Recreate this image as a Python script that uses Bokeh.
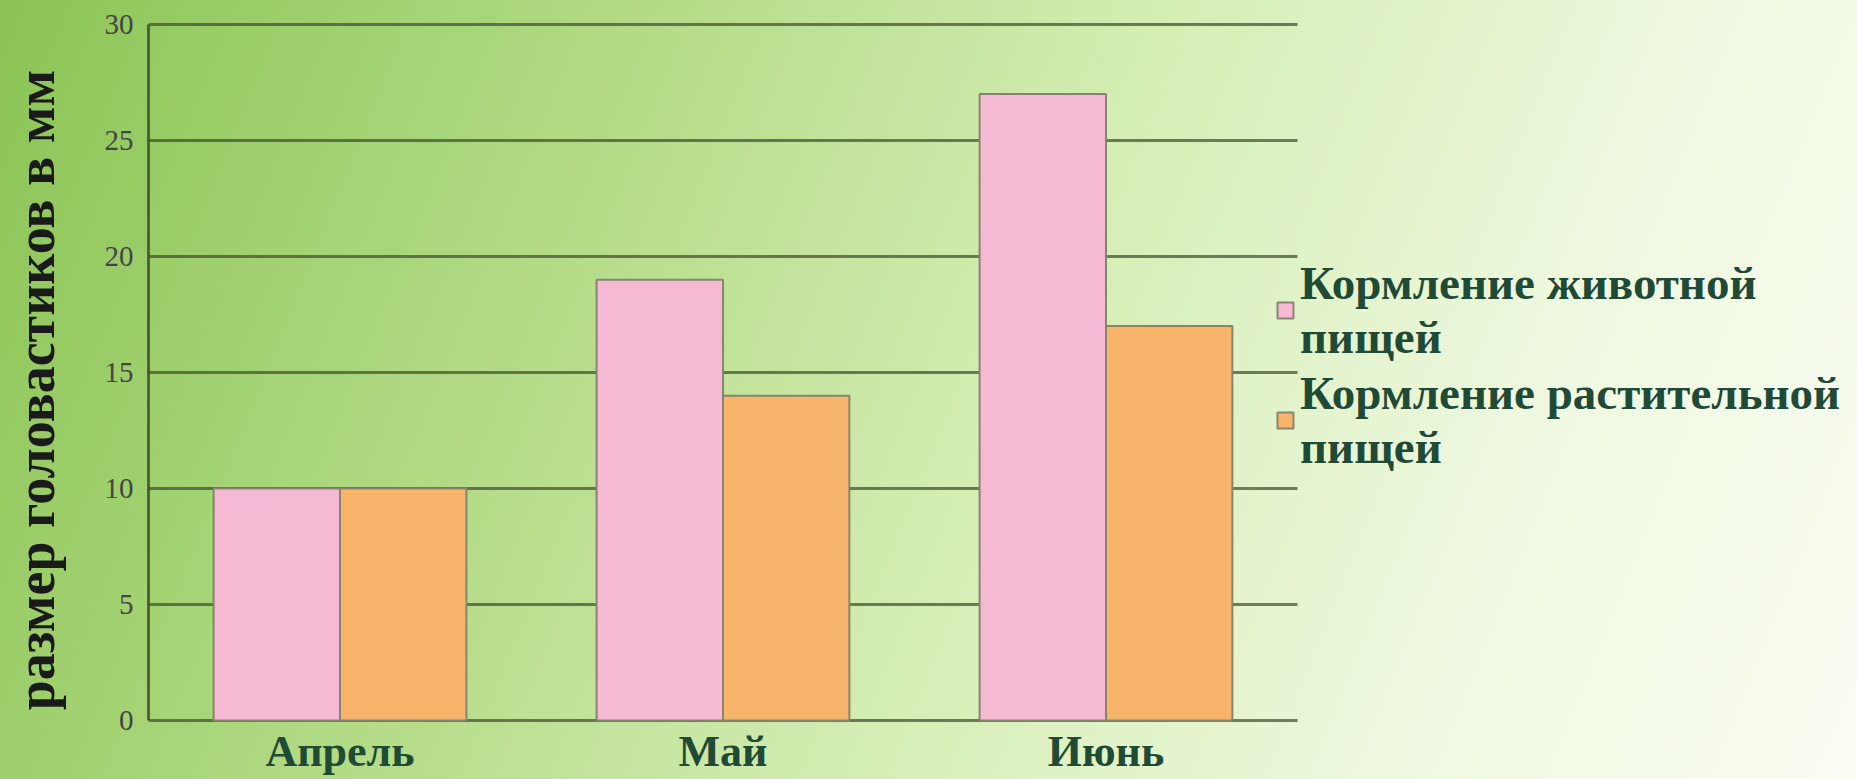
from bokeh.plotting import figure
from bokeh.models import ColumnDataSource, Range1d, Legend, LegendItem, FixedTicker, GlobalInlineStyleSheet
from bokeh.transform import dodge
from bokeh.core.properties import value
from bokeh.embed import file_html
from bokeh.resources import INLINE

# ---- data ----
months = ["Апрель", "Май", "Июнь"]
animal = [10, 19, 27]
plant = [10, 14, 17]
series_names = ["Кормление животной\nпищей", "Кормление растительной\nпищей"]
y_ticks = [0, 5, 10, 15, 20, 25, 30]
y_label = "размер головастиков в мм"

n = len(months)
xs = [i + 0.5 for i in range(n)]
src = ColumnDataSource(dict(x=xs, month=months, animal=animal, plant=plant))
grid_src = ColumnDataSource(dict(y=y_ticks, x0=[0] * len(y_ticks), x1=[n] * len(y_ticks)))

# ---- layout (pixels) ----
W, H = 1857, 779
LEFT = 148          # frame left edge
ZERO_Y = 720        # pixel row of value 0
TOP_Y = 24          # pixel row of value 30
CAT_W = 383.0       # pixel width of one category
px_per_unit = (ZERO_Y - TOP_Y) / 30.0
y0 = -(H - ZERO_Y) / px_per_unit
y1 = 30 + TOP_Y / px_per_unit
x1 = (W - LEFT) / CAT_W

GRID = "#3a4a2a"
TXT = "#1f4a36"
SERIF = "Liberation Serif"

p = figure(width=W, height=H, x_range=Range1d(0, x1), y_range=Range1d(y0, y1),
           output_backend="svg", toolbar_location=None, x_axis_location=None,
           min_border_left=LEFT, min_border_right=0, min_border_top=0, min_border_bottom=0)
p.stylesheets = [GlobalInlineStyleSheet(css=(
    "html { min-height: 100%; background: linear-gradient(112deg, #8bc455 0%, #b3db86 30%, "
    "#d6eeb6 55%, #eef8df 78%, #fafdf3 100%) no-repeat; }"))]
p.background_fill_alpha = 0
p.border_fill_alpha = 0
p.outline_line_color = None
p.xgrid.visible = False
p.ygrid.visible = False

# horizontal grid lines across the category area
p.segment(x0='x0', x1='x1', y0='y', y1='y', source=grid_src,
          line_color=GRID, line_width=3, line_alpha=0.7)

r1 = p.vbar(x=dodge('x', -0.165), top='animal', width=0.33, source=src,
            fill_color="#f6b9d3", line_color="#86866f", line_width=2)
r2 = p.vbar(x=dodge('x', 0.165), top='plant', width=0.33, source=src,
            fill_color="#f9b46c", line_color="#86866f", line_width=2)

# category labels under the axis
p.text(x='x', y=0, text='month', source=src, y_offset=31,
       text_align="center", text_baseline="alphabetic",
       text_font=value(SERIF), text_font_style="bold", text_font_size="44px", text_color=TXT)

# y axis
p.yaxis.ticker = FixedTicker(ticks=y_ticks)
p.yaxis.bounds = (0, 30)
p.yaxis.axis_label = y_label
p.yaxis.axis_label_text_font = SERIF
p.yaxis.axis_label_text_font_style = "bold"
p.yaxis.axis_label_text_font_size = "54px"
p.yaxis.axis_label_text_color = "#1a1a1a"
p.yaxis.axis_label_standoff = 36
p.yaxis.major_label_text_font = SERIF
p.yaxis.major_label_text_font_size = "29px"
p.yaxis.major_label_text_color = "#444444"
p.yaxis.major_label_standoff = 9
p.yaxis.major_tick_line_color = None
p.yaxis.minor_tick_line_color = None
p.yaxis.axis_line_color = GRID
p.yaxis.axis_line_alpha = 0.8
p.yaxis.axis_line_width = 3

legend = Legend(items=[LegendItem(label=series_names[0], renderers=[r1]),
                       LegendItem(label=series_names[1], renderers=[r2])],
                location=(1127, 305))
legend.background_fill_alpha = 0
legend.border_line_color = None
legend.padding = 0
legend.margin = 0
legend.spacing = 2
legend.glyph_width = 20
legend.glyph_height = 20
legend.label_standoff = 5
legend.label_text_font = SERIF
legend.label_text_font_style = "bold"
legend.label_text_font_size = "47px"
legend.label_text_color = TXT
legend.label_text_line_height = 1.106
p.add_layout(legend)

open("out.html", "w").write(file_html(p, INLINE))
